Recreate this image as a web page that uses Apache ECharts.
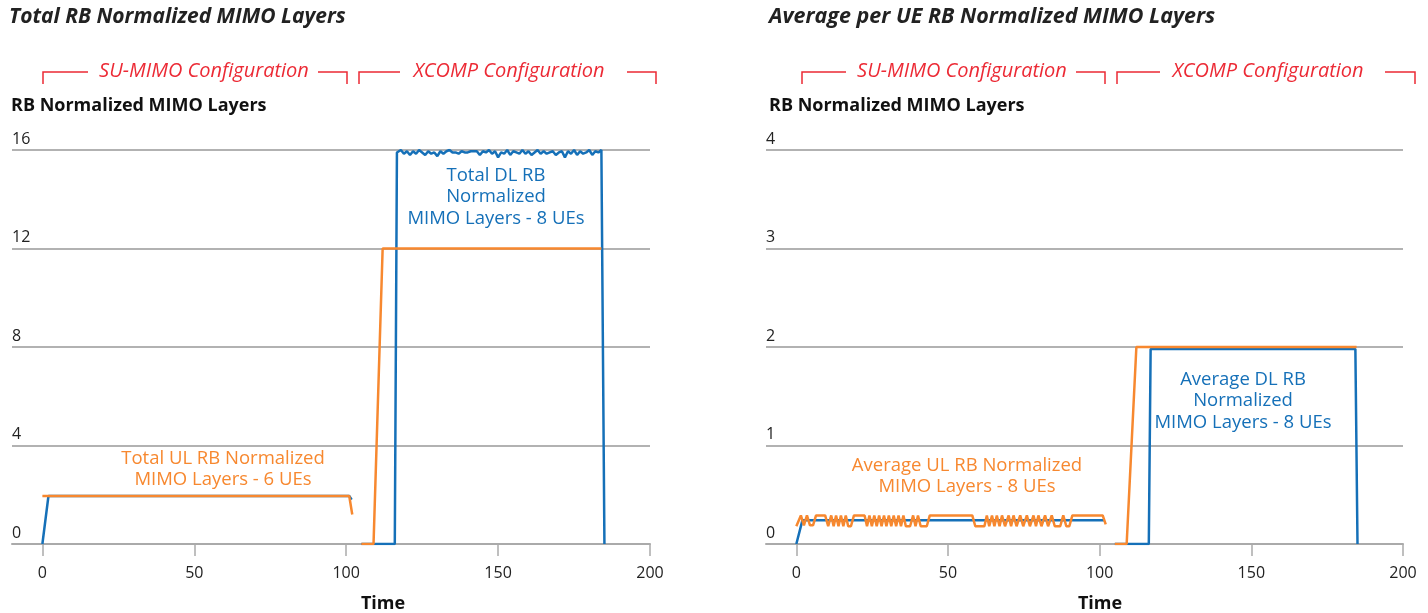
<!DOCTYPE html>
<html>
<head>
<meta charset="utf-8">
<script src="https://cdn.jsdelivr.net/npm/echarts@6/dist/echarts.min.js"></script>
<style>
  html, body { margin: 0; padding: 0; background: #fff; }
  #chart { width: 1428px; height: 613px; }
</style>
</head>
<body>
<div id="chart"></div>
<script>
// tick labels of the time axis
const xTicks = [0, 50, 100, 150, 200]

// left panel: total layers, [time, value]; '-' breaks the line
const totalDL = [
  [0, 0], [2, 1.95], [101, 1.95], [101.8, 1.8], [103, '-'],
  [105, 0], [116, 0], [116.7, 15.9], [118, 16], [119, 15.85], [120, 15.95], [121, 15.8],
  [122, 15.95], [123, 15.85], [124, 16], [125, 15.9], [126, 15.8], [127, 15.95],
  [128, 15.85], [129, 15.9], [130, 15.75], [131, 15.95], [132, 15.85], [133, 15.95],
  [134, 16], [135, 15.9], [136, 15.9], [137, 15.85], [138, 15.95], [139, 15.9],
  [140, 15.9], [141, 15.95], [142, 15.95], [143, 15.95], [144, 15.8], [145, 15.95],
  [146, 15.9], [147, 16], [148, 15.85], [149, 15.95], [150, 15.7], [151, 15.9],
  [152, 15.85], [153, 16], [154, 15.8], [155, 15.95], [156, 15.9], [157, 15.85],
  [158, 16], [159, 15.85], [160, 15.95], [161, 15.8], [162, 15.9], [163, 16],
  [164, 15.85], [165, 15.95], [166, 15.85], [167, 15.9], [168, 15.95], [169, 15.8],
  [170, 15.9], [171, 15.95], [172, 15.7], [173, 15.95], [174, 15.85], [175, 16],
  [176, 15.8], [177, 15.95], [178, 15.85], [179, 15.9], [180, 16], [181, 15.8],
  [182, 15.95], [183, 15.9], [184, 16], [185, 0]
]
const totalUL = [
  [0, 1.95], [101, 1.95], [102, 1.2], [103, '-'],
  [105, 0], [109, 0], [112, 12], [184, 12]
]

// right panel: average per UE
const avgDL = [
  [0, 0], [2, 0.24], [101.5, 0.24], [103, '-'],
  [105, 0], [116.2, 0], [116.8, 1.98], [184.3, 1.98], [185, 0]
]
const avgUL = [
  [0, 0.18], [1.5, 0.29], [2.5, 0.19], [3.5, 0.29], [4.5, 0.19], [5.5, 0.19], [6.5, 0.29],
  [9.5, 0.29], [10.5, 0.18], [11.5, 0.29], [12.3, 0.18], [13.1, 0.29], [13.9, 0.18],
  [14.7, 0.29], [15.5, 0.18], [16.3, 0.29], [17.1, 0.18], [18, 0.18], [19, 0.29],
  [22.5, 0.29], [23.3, 0.18], [24.1, 0.29], [24.9, 0.18], [25.7, 0.29], [26.5, 0.18],
  [27.3, 0.29], [28.1, 0.18], [28.9, 0.29], [29.7, 0.18], [30.5, 0.29], [31.3, 0.18],
  [32.1, 0.29], [32.9, 0.18], [33.7, 0.29], [34.5, 0.18], [35.3, 0.29], [36.1, 0.18],
  [37.5, 0.18], [38.5, 0.29], [39.3, 0.18], [40.1, 0.29], [41, 0.18], [43, 0.18],
  [44, 0.29], [58, 0.29], [59, 0.18], [62, 0.18], [62.8, 0.29], [63.6, 0.18],
  [64.5, 0.29], [65.3, 0.18], [66.1, 0.29], [67, 0.18], [67.8, 0.29], [68.8, 0.18],
  [70, 0.29], [70.8, 0.18], [71.6, 0.29], [72.6, 0.18], [73.8, 0.29], [74.8, 0.18],
  [76, 0.29], [77, 0.18], [78.2, 0.29], [79, 0.18], [79.8, 0.29], [80.8, 0.18],
  [82, 0.29], [83, 0.18], [84.2, 0.29], [85.2, 0.18], [87, 0.18], [88, 0.29],
  [89, 0.18], [90, 0.18], [91, 0.29],
  [101, 0.29], [102, 0.2], [103, '-'],
  [105, 0], [108.9, 0], [112.1, 2], [184.7, 2]
]

const blue = '#1570b8'
const orange = '#f7882f'
const red = '#ec2a35'
const font = '"Open Sans", Lato, sans-serif'

const chart = echarts.init(document.getElementById('chart'))

const xAxisFor = (gridIndex, namePad) => ({
  type: 'value',
  gridIndex,
  min: -10,
  max: 200,
  name: 'Time',
  nameLocation: 'middle',
  nameGap: 51,
  nameTextStyle: { fontFamily: font, fontWeight: 'bold', fontSize: 18, color: '#111', padding: [0, 0, 0, namePad] },
  axisLine: { lineStyle: { color: '#aaa', width: 2 } },
  axisTick: { customValues: xTicks, length: 12, lineStyle: { color: '#aaa', width: 1.5 } },
  axisLabel: { customValues: xTicks, margin: 21, fontFamily: font, fontSize: 16, color: '#222' },
  splitLine: { show: false },
})

const yAxisFor = (gridIndex, max) => ({
  type: 'value',
  gridIndex,
  min: 0,
  max,
  interval: max / 4,
  axisLine: { show: false },
  axisTick: { show: false },
  axisLabel: { inside: true, margin: 0, verticalAlign: 'bottom', padding: [0, 0, 3, 0], fontFamily: font, fontSize: 16, color: '#222' },
  splitLine: { lineStyle: { color: '#999', width: 1.5 } },
})

const lineSeries = (data, color, idx, z) => ({
  type: 'line',
  data,
  xAxisIndex: idx,
  yAxisIndex: idx,
  showSymbol: false,
  symbol: 'none',
  connectNulls: false,
  z,
  lineStyle: { color, width: 2.5 },
})

// bracket annotations above each panel
const bracket = (pts) => ({
  type: 'polyline',
  shape: { points: pts },
  style: { stroke: red, lineWidth: 1.5, fill: null },
})
const text = (x, y, str, color, size, weight, italic, align) => ({
  type: 'text',
  x, y,
  style: {
    text: str, fill: color, fontSize: size, fontFamily: font,
    fontWeight: weight || 'normal', fontStyle: italic ? 'italic' : 'normal',
    align: align || 'center', verticalAlign: 'middle', lineHeight: 21.5,
  },
})

const option = {
  animation: false,
  grid: [
    { left: 12, right: 778, top: 150, bottom: 69, outerBoundsMode: 'none' },
    { left: 766, right: 25, top: 150, bottom: 69, outerBoundsMode: 'none' },
  ],
  xAxis: [xAxisFor(0, 104), xAxisFor(1, 31)],
  yAxis: [yAxisFor(0, 16), yAxisFor(1, 4)],
  series: [
    lineSeries(totalDL, blue, 0, 2),
    lineSeries(totalUL, orange, 0, 3),
    lineSeries(avgDL, blue, 1, 2),
    lineSeries(avgUL, orange, 1, 3),
  ],
  graphic: [
    text(9, 17, 'Total RB Normalized MIMO Layers', '#222', 21, 'bold', true, 'left'),
    text(769, 17, 'Average per UE RB Normalized MIMO Layers', '#222', 21.5, 'bold', true, 'left'),
    text(11, 106, 'RB Normalized MIMO Layers', '#111', 18, 'bold', false, 'left'),
    text(769, 106, 'RB Normalized MIMO Layers', '#111', 18, 'bold', false, 'left'),

    bracket([[43, 84], [43, 72], [88, 72]]),
    text(204, 71, 'SU-MIMO Configuration', red, 20, 'normal', true),
    bracket([[318, 72], [347, 72], [347, 84]]),
    bracket([[359, 84], [359, 72], [400, 72]]),
    text(509, 71, 'XCOMP Configuration', red, 20, 'normal', true),
    bracket([[627, 72], [656, 72], [656, 84]]),

    bracket([[802, 84], [802, 72], [846, 72]]),
    text(962, 71, 'SU-MIMO Configuration', red, 20, 'normal', true),
    bracket([[1076, 72], [1105, 72], [1105, 84]]),
    bracket([[1117, 84], [1117, 72], [1160, 72]]),
    text(1268, 71, 'XCOMP Configuration', red, 20, 'normal', true),
    bracket([[1385, 72], [1415, 72], [1415, 84]]),

    text(496, 197, 'Total DL RB\nNormalized\nMIMO Layers - 8 UEs', blue, 18.5),
    text(223, 469, 'Total UL RB Normalized\nMIMO Layers - 6 UEs', orange, 18.5),
    text(1243, 401, 'Average DL RB\nNormalized\nMIMO Layers - 8 UEs', blue, 18.5),
    text(967, 476, 'Average UL RB Normalized\nMIMO Layers - 8 UEs', orange, 18.5),
  ],
}

chart.setOption(option)
</script>
</body>
</html>
